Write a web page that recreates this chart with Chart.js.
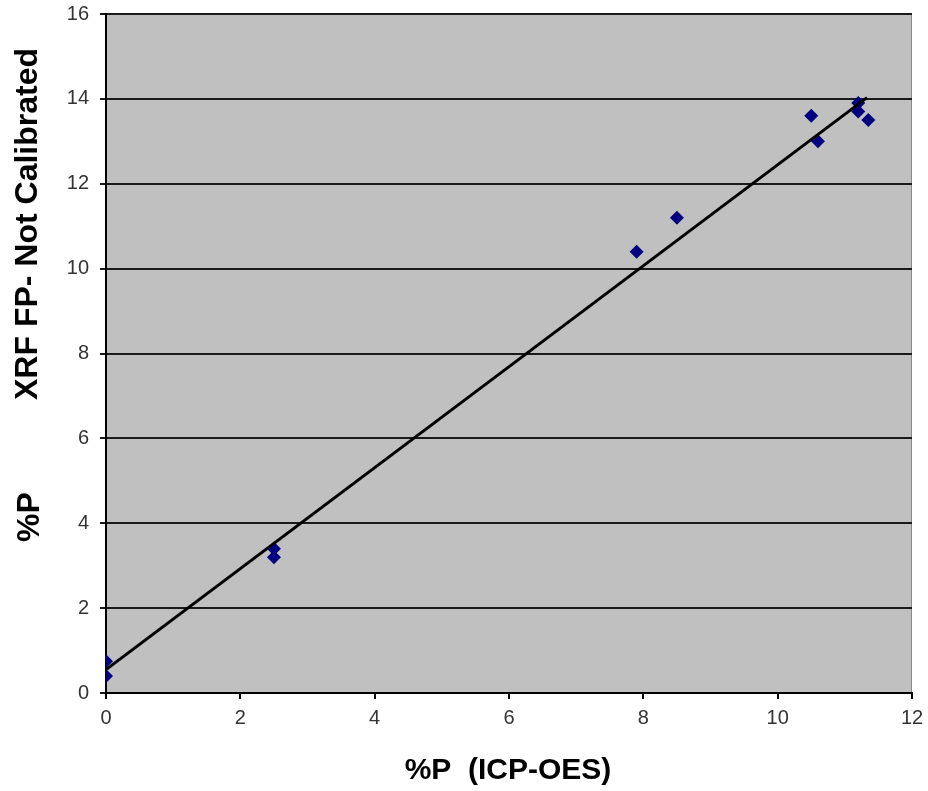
<!DOCTYPE html>
<html>
<head>
<meta charset="utf-8">
<script src="https://cdn.jsdelivr.net/npm/chart.js@4/dist/chart.umd.min.js"></script>
<style>
	html, body { margin: 0; padding: 0; background: #fff; }
	#wrap { width: 928px; height: 791px; }
</style>
</head>
<body>
<div id="wrap"><canvas id="chart"></canvas></div>
<script>
// %P by ICP-OES (x) against XRF FP, not calibrated (y)
const icpValues = [0, 0, 2.5, 2.5, 7.9, 8.5, 10.5, 10.6, 11.2, 11.2, 11.35];
const xrfValues = [0.75, 0.4, 3.4, 3.2, 10.4, 11.2, 13.6, 13.0, 13.9, 13.7, 13.5];

// linear trendline at its two ends
const trendX = [0, 11.33];
const trendY = [0.55, 14.03];

const xTicks = [0, 2, 4, 6, 8, 10, 12];
const yTicks = [0, 2, 4, 6, 8, 10, 12, 14, 16];

const xTitle = '%P  (ICP-OES)';
const yTitle = 'XRF FP- Not Calibrated';
const yUnit = '%P';

const plotBackground = {
	id: 'plotBackground',
	beforeDraw(chart) {
		const { ctx, chartArea: a } = chart;
		ctx.save();
		ctx.fillStyle = '#c0c0c0';
		ctx.fillRect(a.left, a.top, a.right - a.left, a.bottom - a.top);
		ctx.strokeStyle = '#8a8a8a';
		ctx.lineWidth = 1;
		ctx.strokeRect(a.left + 0.5, a.top + 0.5, a.right - a.left - 1, a.bottom - a.top - 1);
		ctx.restore();
	},
};

const axisTitles = {
	id: 'axisTitles',
	afterDraw(chart) {
		const { ctx } = chart;
		ctx.save();
		ctx.fillStyle = '#000';
		ctx.textAlign = 'center';
		ctx.textBaseline = 'middle';
		ctx.font = 'bold 30px "Liberation Sans", Arial, sans-serif';
		ctx.fillText(xTitle, 508, 771);

		ctx.translate(28, 0);
		ctx.rotate(-Math.PI / 2);
		ctx.font = 'bold 32px "Liberation Sans", Arial, sans-serif';
		ctx.fillText(yTitle, -224, 0);
		ctx.fillText(yUnit, -517, 2);
		ctx.restore();
	},
};

const tickFont = { family: '"Liberation Sans", Arial, sans-serif', size: 20 };

new Chart(document.getElementById('chart'), {
	type: 'scatter',
	data: {
		datasets: [
			{
				label: 'XRF FP',
				data: icpValues.map((x, i) => ({ x, y: xrfValues[i] })),
				pointStyle: 'rectRot',
				pointRadius: 7,
				pointHoverRadius: 7,
				backgroundColor: '#000080',
				borderColor: '#000080',
				borderWidth: 0,
				order: 2,
			},
			{
				label: 'Trend',
				type: 'line',
				data: trendX.map((x, i) => ({ x, y: trendY[i] })),
				borderColor: '#000',
				borderWidth: 3,
				pointRadius: 0,
				fill: false,
				order: 1,
			},
		],
	},
	options: {
		responsive: true,
		maintainAspectRatio: false,
		animation: false,
		layout: { padding: { top: 14, right: 16, left: 0, bottom: 0 } },
		plugins: {
			legend: { display: false },
			tooltip: { enabled: false },
		},
		scales: {
			x: {
				type: 'linear',
				min: 0,
				max: 12,
				afterBuildTicks: (scale) => { scale.ticks = xTicks.map((value) => ({ value })); },
				afterFit: (scale) => {
					scale.height = 98;
					scale.paddingLeft = 0;
					scale.paddingRight = 0;
				},
				border: { color: '#000', width: 2 },
				grid: { drawOnChartArea: false, drawTicks: true, tickLength: 6, color: '#000', lineWidth: 2 },
				ticks: { color: '#333', font: tickFont, padding: 7, maxRotation: 0 },
			},
			y: {
				type: 'linear',
				min: 0,
				max: 16,
				afterBuildTicks: (scale) => { scale.ticks = yTicks.map((value) => ({ value })); },
				afterFit: (scale) => {
					scale.width = 106;
					scale.paddingTop = 0;
					scale.paddingBottom = 0;
				},
				border: { color: '#000', width: 2 },
				grid: { color: '#1a1a1a', lineWidth: 2, tickLength: 6 },
				ticks: { color: '#333', font: tickFont, padding: 11 },
			},
		},
	},
	plugins: [plotBackground, axisTitles],
});
</script>
</body>
</html>
